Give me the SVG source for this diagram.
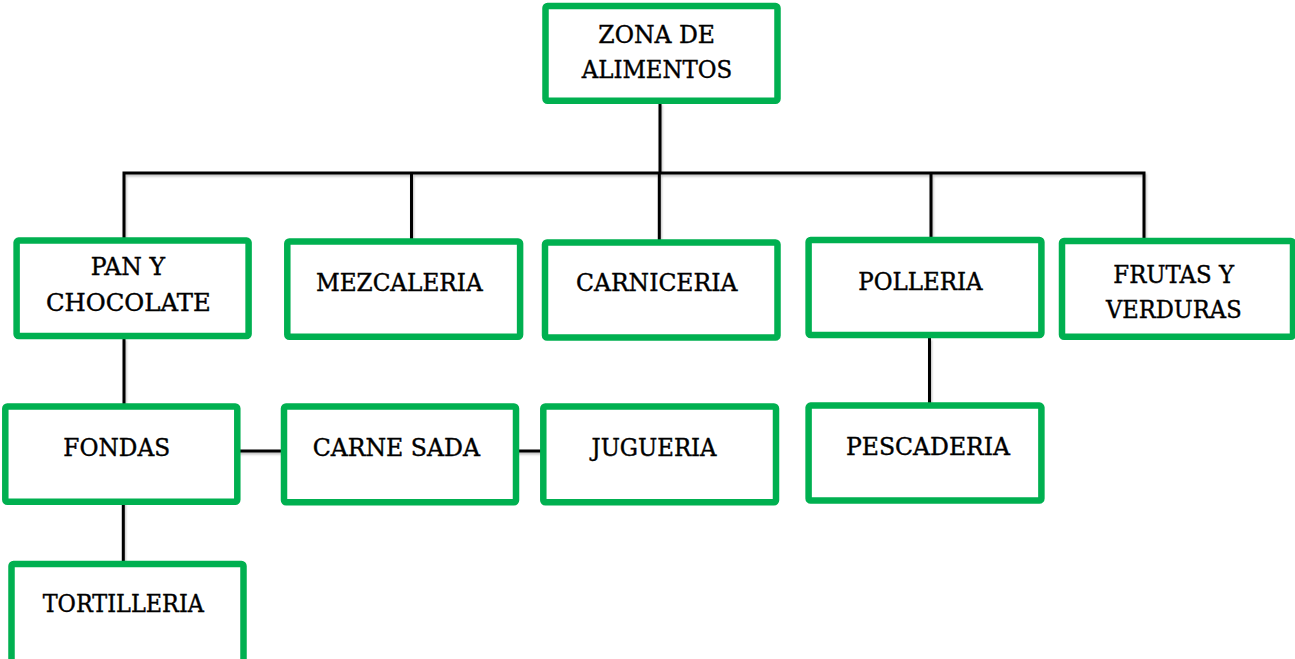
<svg xmlns="http://www.w3.org/2000/svg" width="1295" height="659" viewBox="0 0 1295 659">
<defs>
<filter id="sh" x="-5%" y="-20%" width="110%" height="140%">
<feDropShadow dx="1" dy="2" stdDeviation="1.2" flood-color="#000" flood-opacity="0.25"/>
</filter>
</defs>
<style>
.box{fill:#fff;stroke:#00B050;stroke-width:6.5;}
.lbl{font-family:"DejaVu Serif","Liberation Serif",serif;font-size:23.5px;fill:#000;stroke:#000;stroke-width:0.4;text-anchor:middle;}
.ln{fill:none;stroke:#000;stroke-width:3;stroke-linecap:butt;stroke-linejoin:miter;}
</style>
<rect width="1295" height="659" fill="#fff"/>
<g id="connectors" filter="url(#sh)">
<path class="ln" d="M660,103 V173"/>
<path class="ln" d="M124,239 V173 H1144 V239"/>
<path class="ln" d="M411.5,173 V240"/>
<path class="ln" d="M659.3,173 V241"/>
<path class="ln" d="M931,173 V244"/>
<path class="ln" d="M124,338 V404"/>
<path class="ln" d="M929.5,338 V407"/>
<path class="ln" d="M123.3,495 V562"/>
<path class="ln" d="M238,451 H282"/>
<path class="ln" d="M517,451 H548.5"/>
</g>
<g id="zona">
<rect class="box" x="545.5" y="6" width="232" height="94.7" rx="2"/>
<text class="lbl" x="656.7" y="43" textLength="116.7" lengthAdjust="spacingAndGlyphs">ZONA DE</text>
<text class="lbl" x="657" y="78" textLength="150.6" lengthAdjust="spacingAndGlyphs">ALIMENTOS</text>
</g>
<g id="pan">
<rect class="box" x="16.6" y="240.6" width="232" height="95.5" rx="2"/>
<text class="lbl" x="127.8" y="275" textLength="74.3" lengthAdjust="spacingAndGlyphs">PAN Y</text>
<text class="lbl" x="128.3" y="310.7" textLength="164.7" lengthAdjust="spacingAndGlyphs">CHOCOLATE</text>
</g>
<g id="mezcaleria">
<rect class="box" x="287.3" y="241.5" width="232.8" height="95.3" rx="2"/>
<text class="lbl" x="399.3" y="291" textLength="166.7" lengthAdjust="spacingAndGlyphs">MEZCALERIA</text>
</g>
<g id="carniceria">
<rect class="box" x="545" y="242.5" width="232.5" height="95" rx="2"/>
<text class="lbl" x="656.7" y="291" textLength="161.3" lengthAdjust="spacingAndGlyphs">CARNICERIA</text>
</g>
<g id="polleria">
<rect class="box" x="808.6" y="240" width="232.8" height="95" rx="2"/>
<text class="lbl" x="920.5" y="290" textLength="124.4" lengthAdjust="spacingAndGlyphs">POLLERIA</text>
</g>
<g id="frutas">
<rect class="box" x="1062" y="241" width="231" height="95.7" rx="2"/>
<text class="lbl" x="1173.7" y="283.3" textLength="120.7" lengthAdjust="spacingAndGlyphs">FRUTAS Y</text>
<text class="lbl" x="1173.8" y="318.3" textLength="135.7" lengthAdjust="spacingAndGlyphs">VERDURAS</text>
</g>
<g id="pescaderia">
<rect class="box" x="808.6" y="405.6" width="232.8" height="95" rx="2"/>
<text class="lbl" x="928" y="455" textLength="164" lengthAdjust="spacingAndGlyphs">PESCADERIA</text>
</g>
<g id="fondas">
<rect class="box" x="5.3" y="406.5" width="232" height="95.3" rx="2"/>
<text class="lbl" x="116.7" y="455.7" textLength="106.7" lengthAdjust="spacingAndGlyphs">FONDAS</text>
</g>
<g id="carnesada">
<rect class="box" x="284" y="406.5" width="232" height="95.7" rx="2"/>
<text class="lbl" x="396.3" y="456" textLength="167.3" lengthAdjust="spacingAndGlyphs">CARNE SADA</text>
</g>
<g id="jugueria">
<rect class="box" x="543.3" y="406.5" width="232.7" height="95.7" rx="2"/>
<text class="lbl" x="654" y="456" textLength="125" lengthAdjust="spacingAndGlyphs">JUGUERIA</text>
</g>
<g id="tortilleria">
<rect class="box" x="11.5" y="564" width="232" height="100" rx="2"/>
<text class="lbl" x="123.3" y="612.3" textLength="161.3" lengthAdjust="spacingAndGlyphs">TORTILLERIA</text>
</g>
</svg>
